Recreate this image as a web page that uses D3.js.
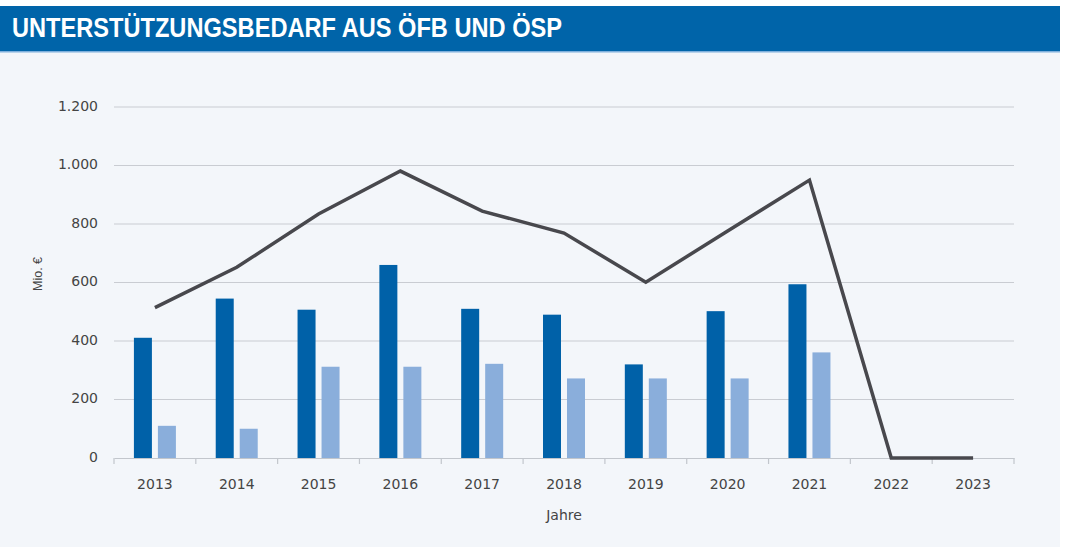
<!DOCTYPE html>
<html>
<head>
<meta charset="utf-8">
<script src="https://cdn.jsdelivr.net/npm/d3@7"></script>
<style>
  body { margin: 0; background: #fff; }
  svg { display: block; }
</style>
</head>
<body>
<div class="container"></div>
<script>
// data (Mio. €)
var years = ["2013","2014","2015","2016","2017","2018","2019","2020","2021","2022","2023"];
var oefb = [411, 545, 507, 660, 510, 490, 320, 502, 594, null, null];   // dark bars
var oesp = [110, 100, 312, 312, 322, 272, 272, 272, 361, null, null];   // light bars
var total = [514, 652, 834, 981, 844, 769, 601, 776, 950, 0, 0];        // line
var yTicks = [0, 200, 400, 600, 800, 1000, 1200];

var width = 1065, height = 547;
var plot = {left: 114, right: 1014, top: 107, bottom: 458};
var tickFont = '"DejaVu Sans", Verdana, sans-serif';

var svg = d3.select('.container').append('svg')
	.attr('width', width)
	.attr('height', height);

// panel + title bar
svg.append('rect').attr('x', 0).attr('y', 51).attr('width', 1060).attr('height', height - 51).style('fill', '#f3f6fa');
svg.append('rect').attr('x', 0).attr('y', 6).attr('width', 1060).attr('height', 45).style('fill', '#0064a9');
svg.append('rect').attr('x', 0).attr('y', 51).attr('width', 1060).attr('height', 1.5).style('fill', '#7fb0dc');
svg.append('text')
	.attr('x', 12).attr('y', 37)
	.attr('textLength', 550).attr('lengthAdjust', 'spacingAndGlyphs')
	.style('font-family', '"Liberation Sans Narrow", "Liberation Sans", Roboto, sans-serif')
	.style('font-weight', 'bold').style('font-size', '27px').style('fill', '#fff')
	.text('UNTERSTÜTZUNGSBEDARF AUS ÖFB UND ÖSP');

var x = d3.scaleBand().domain(years).range([plot.left, plot.right]);
var y = d3.scaleLinear().domain([0, 1200]).range([plot.bottom, plot.top]);

// gridlines
svg.append('g').selectAll('line').data(yTicks.slice(1)).enter().append('line')
	.attr('x1', plot.left).attr('x2', plot.right)
	.attr('y1', function(d){ return y(d); }).attr('y2', function(d){ return y(d); })
	.style('stroke', '#c9ccd2').style('stroke-width', 1.2);

// y labels
var yAxis = svg.append('g').attr('transform', 'translate(' + (plot.left - 16) + ',0)')
	.call(d3.axisLeft(y).tickValues(yTicks).tickSize(0).tickPadding(0)
		.tickFormat(function(d){ return d3.format(',')(d).replace(',', '.'); }));
yAxis.select('.domain').remove();
yAxis.selectAll('text').style('font-family', tickFont)
	.style('font-size', '14px').style('fill', '#444').attr('dy', '0.22em');

svg.append('text')
	.attr('transform', 'translate(42,' + 274 + ') rotate(-90)')
	.attr('text-anchor', 'middle')
	.style('font-family', '"Liberation Sans", Arial, sans-serif')
	.style('font-size', '12.5px').style('fill', '#444')
	.text('Mio. €');

// bars
var bw = 18;
svg.append('g').selectAll('rect').data(years.filter(function(d, i){ return oefb[i] != null; })).enter().append('rect')
	.attr('x', function(d){ return x(d) + x.bandwidth() / 2 - 21; })
	.attr('y', function(d, i){ return y(oefb[i]); })
	.attr('width', bw)
	.attr('height', function(d, i){ return y(0) - y(oefb[i]); })
	.style('fill', '#0061a8');
svg.append('g').selectAll('rect').data(years.filter(function(d, i){ return oesp[i] != null; })).enter().append('rect')
	.attr('x', function(d){ return x(d) + x.bandwidth() / 2 + 3; })
	.attr('y', function(d, i){ return y(oesp[i]); })
	.attr('width', bw)
	.attr('height', function(d, i){ return y(0) - y(oesp[i]); })
	.style('fill', '#8aaedb');

// x axis
var xAxis = svg.append('g').attr('transform', 'translate(0,' + plot.bottom + ')')
	.call(d3.axisBottom(x).tickSize(0).tickPadding(21));
xAxis.select('.domain').style('stroke', '#c2c6cc').style('stroke-width', 1.2);
xAxis.selectAll('text').style('font-family', tickFont)
	.style('font-size', '14px').style('fill', '#444');
var edges = years.map(function(d){ return x(d); }).concat([plot.right]);
xAxis.selectAll('line.edge').data(edges).enter().append('line')
	.attr('class', 'edge')
	.attr('x1', function(d){ return d; }).attr('x2', function(d){ return d; })
	.attr('y1', 0).attr('y2', 6)
	.style('stroke', '#c2c6cc').style('stroke-width', 1.2);

svg.append('text')
	.attr('x', (plot.left + plot.right) / 2).attr('y', 520)
	.attr('text-anchor', 'middle')
	.style('font-family', tickFont)
	.style('font-size', '14px').style('fill', '#444')
	.text('Jahre');

// line
var line = d3.line()
	.x(function(d, i){ return x(years[i]) + x.bandwidth() / 2; })
	.y(function(d){ return y(d); });
svg.append('path').datum(total)
	.attr('d', line)
	.style('fill', 'none').style('stroke', '#48484d').style('stroke-width', 3.5)
	.style('stroke-linejoin', 'miter');
</script>
</body>
</html>
